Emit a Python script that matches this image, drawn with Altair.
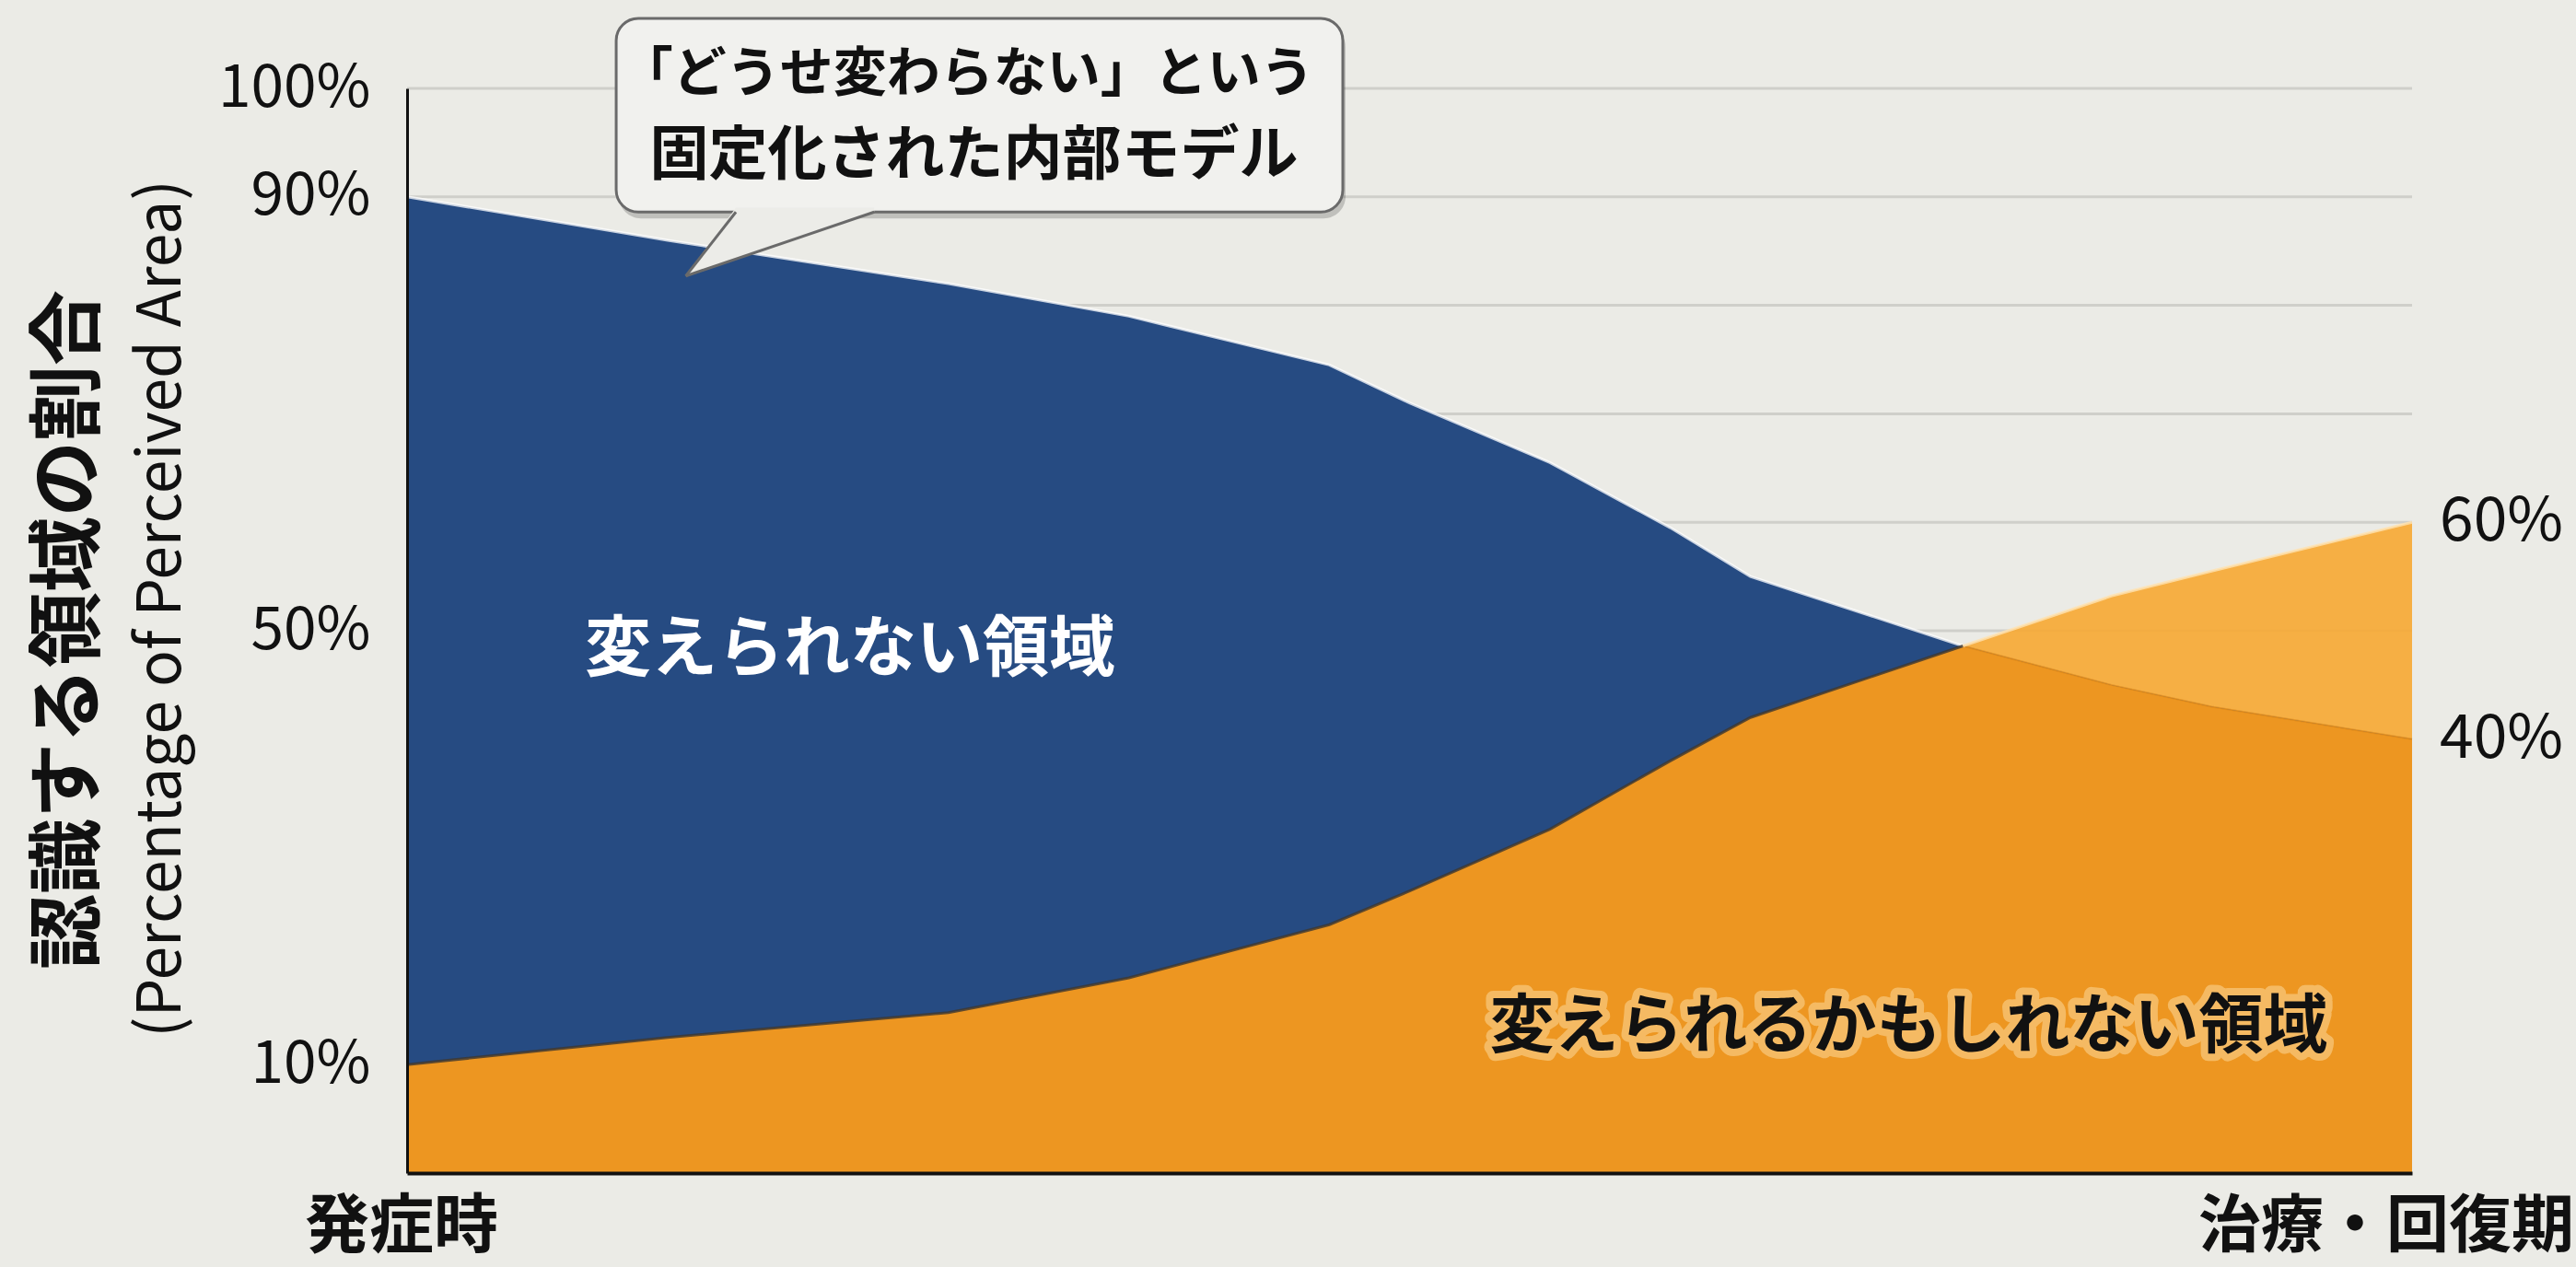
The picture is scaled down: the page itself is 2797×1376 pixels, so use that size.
import altair as alt
import pandas as pd

# ---- data ----
x_pos = [0, 13, 27, 36, 46, 50, 57, 63, 67, 77.6, 85, 90, 100]
blue_vals = [90, 86, 82, 79, 74.5, 71, 65.5, 59.5, 55, 48.6, 45, 43, 40]      # 変えられない領域
orange_vals = [10, 12.5, 14.8, 18, 22.9, 26, 31.7, 38, 42, 48.6, 53.2, 55.5, 60]  # 変えられるかもしれない領域

grid_vals = [10, 20, 30, 40, 50, 60, 70, 80, 90, 100]
y_label_values = [10, 50, 90, 100]
x_labels = ["発症時", "治療・回復期"]
y_title = "認識する領域の割合"
y_subtitle = "(Percentage of Perceived Area)"
bubble_lines = ["「どうせ変わらない」という", "固定化された内部モデル"]
area_labels = ["変えられない領域", "変えられるかもしれない領域"]

FONT = "Noto Sans CJK JP"
BG = "#EBEBE6"
NAVY = "#264B82"
ORANGE = "#ED9621"
ORANGE_LIGHT = "#F6A936"

df = pd.DataFrame({"x": x_pos, "blue": blue_vals, "orange": orange_vals})

xs = alt.Scale(domain=[0, 100], nice=False, zero=False)
ys = alt.Scale(domain=[0, 100], nice=False, zero=False)

label_expr_y = "indexof(" + str(y_label_values) + ", datum.value) >= 0 ? datum.value + '%' : ''"

x_axis = alt.Axis(
    title=None, values=[0, 100], labels=False, grid=False, ticks=False, tickSize=0,
    domainColor="#111111", domainWidth=4, zindex=1,
)
y_axis = alt.Axis(
    title=None, values=list(range(0, 101, 10)), labelExpr=label_expr_y, grid=False, ticks=False,
    tickSize=0, labelFontSize=64, labelFont=FONT, labelColor="#111111", labelPadding=40,
    labelLimit=0, labelOverlap=False, labelFlush=False, domainColor="#111111", domainWidth=3,
    zindex=1,
)

X = alt.X("x:Q", scale=xs, axis=x_axis)

grid = alt.Chart(pd.DataFrame({"g": grid_vals})).mark_rule(color="#CFCFCA", strokeWidth=3).encode(
    y=alt.Y("g:Q", scale=ys, axis=y_axis)
)

base = alt.Chart(df).encode(x=X)

light_orange = base.mark_area(color=ORANGE_LIGHT, opacity=0.92).encode(
    y=alt.Y("orange:Q", scale=ys, axis=y_axis)
)
blue_area = base.mark_area(color=NAVY).encode(y=alt.Y("blue:Q", scale=ys, axis=y_axis))
dark_orange = base.transform_calculate(low="min(datum.blue, datum.orange)").mark_area(
    color=ORANGE
).encode(y=alt.Y("low:Q", scale=ys, axis=y_axis))

blue_edge = base.transform_filter("datum.blue >= datum.orange").mark_line(
    color="#FFFFFF", strokeWidth=3, opacity=0.75
).encode(y=alt.Y("blue:Q", scale=ys, axis=y_axis))
blue_edge_after = base.transform_filter("datum.blue <= datum.orange").mark_line(
    color="#D88415", strokeWidth=2, opacity=0.6
).encode(y=alt.Y("blue:Q", scale=ys, axis=y_axis))
orange_edge_dark = base.transform_filter("datum.orange <= datum.blue").mark_line(
    color="#3E372E", strokeWidth=3, opacity=0.8
).encode(y=alt.Y("orange:Q", scale=ys, axis=y_axis))
orange_edge_light = base.transform_filter("datum.orange >= datum.blue").mark_line(
    color="#FFE2B0", strokeWidth=3, opacity=0.8
).encode(y=alt.Y("orange:Q", scale=ys, axis=y_axis))

# ---- x-axis end labels (text at the two ends of the time axis) ----
xl_df = pd.DataFrame({"t": x_labels, "lx": [x_pos[0], x_pos[-1]], "ly": [0, 0]})
x_label_left = alt.Chart(xl_df.iloc[[0]]).mark_text(
    align="center", baseline="middle", dy=60, dx=-6, font=FONT, fontSize=70, fontWeight="bold",
    color="#111111"
).encode(x=alt.X("lx:Q", scale=xs, axis=x_axis), y=alt.Y("ly:Q", scale=ys, axis=y_axis), text="t:N")
x_label_right = alt.Chart(xl_df.iloc[[1]]).mark_text(
    align="right", baseline="middle", dy=60, dx=176, font=FONT, fontSize=68, fontWeight="bold",
    color="#111111"
).encode(x=alt.X("lx:Q", scale=xs, axis=x_axis), y=alt.Y("ly:Q", scale=ys, axis=y_axis), text="t:N")

# ---- speech bubble (annotation, in data coordinates) ----
bub = pd.DataFrame({"x1": [10.43], "x2": [46.67], "y1": [88.6], "y2": [106.45]})
bubble_shadow = alt.Chart(bub).mark_rect(
    color="#000000", opacity=0.18, cornerRadius=24, xOffset=3, x2Offset=3, yOffset=7, y2Offset=7
).encode(
    x=alt.X("x1:Q", scale=xs, axis=x_axis), x2="x2:Q",
    y=alt.Y("y1:Q", scale=ys, axis=y_axis), y2="y2:Q",
)
bubble_rect = alt.Chart(bub).mark_rect(
    fill="#F1F1EE", stroke="#6A6A6A", strokeWidth=3, cornerRadius=24
).encode(
    x=alt.X("x1:Q", scale=xs, axis=x_axis), x2="x2:Q",
    y=alt.Y("y1:Q", scale=ys, axis=y_axis), y2="y2:Q",
)
tail = pd.DataFrame({"tx": [13.9, 16.4, 23.3], "lo": [82.7, 84.27, 88.6], "hi": [82.7, 89.0, 89.0]})
tail_fill = alt.Chart(tail).mark_area(color="#ECECE8").encode(
    x=alt.X("tx:Q", scale=xs, axis=x_axis),
    y=alt.Y("lo:Q", scale=ys, axis=y_axis), y2="hi:Q",
)
tail_edges_df = pd.DataFrame({
    "ex": [13.9, 16.4, 13.9, 23.3],
    "ey": [82.7, 88.6, 82.7, 88.6],
    "seg": ["a", "a", "b", "b"],
})
tail_edges = alt.Chart(tail_edges_df).mark_line(color="#6A6A6A", strokeWidth=3).encode(
    x=alt.X("ex:Q", scale=xs, axis=x_axis),
    y=alt.Y("ey:Q", scale=ys, axis=y_axis),
    detail="seg:N",
)
bubble_text1 = alt.Chart(pd.DataFrame({"t": [bubble_lines[0]], "bx": [10.6], "by": [101.2]})).mark_text(
    align="left", baseline="middle", font=FONT, fontSize=58, fontWeight="bold", color="#111111"
).encode(x=alt.X("bx:Q", scale=xs, axis=x_axis), y=alt.Y("by:Q", scale=ys, axis=y_axis), text="t:N")
bubble_text2 = alt.Chart(pd.DataFrame({"t": [bubble_lines[1]], "bx": [12.1], "by": [93.7]})).mark_text(
    align="left", baseline="middle", font=FONT, fontSize=64, fontWeight="bold", color="#111111"
).encode(x=alt.X("bx:Q", scale=xs, axis=x_axis), y=alt.Y("by:Q", scale=ys, axis=y_axis), text="t:N")

# ---- area labels ----
lab1 = alt.Chart(pd.DataFrame({"t": [area_labels[0]], "lx": [22.1], "ly": [48.2]})).mark_text(
    align="center", baseline="middle", font=FONT, fontSize=72, fontWeight="bold", color="#FFFFFF"
).encode(x=alt.X("lx:Q", scale=xs, axis=x_axis), y=alt.Y("ly:Q", scale=ys, axis=y_axis), text="t:N")

lab2_df = pd.DataFrame({"t": [area_labels[1]], "lx": [74.9], "ly": [13.3]})
lab2_glow = alt.Chart(lab2_df).mark_text(
    align="center", baseline="middle", font=FONT, fontSize=70, fontWeight="bold",
    color="#F8C77A", stroke="#F8C77A", strokeWidth=16, strokeJoin="round", opacity=0.75
).encode(x=alt.X("lx:Q", scale=xs, axis=x_axis), y=alt.Y("ly:Q", scale=ys, axis=y_axis), text="t:N")
lab2 = alt.Chart(lab2_df).mark_text(
    align="center", baseline="middle", font=FONT, fontSize=70, fontWeight="bold", color="#111111"
).encode(x=alt.X("lx:Q", scale=xs, axis=x_axis), y=alt.Y("ly:Q", scale=ys, axis=y_axis), text="t:N")

# ---- end labels ----
end_df = pd.DataFrame({
    "ex": [x_pos[-1], x_pos[-1]],
    "ev": [orange_vals[-1], blue_vals[-1]],
})
end_df["t"] = end_df["ev"].map(lambda v: f"{v:.0f}%")
end_labels = alt.Chart(end_df).mark_text(
    align="left", baseline="middle", dx=30, font=FONT, fontSize=66, color="#111111"
).encode(x=alt.X("ex:Q", scale=xs, axis=x_axis), y=alt.Y("ev:Q", scale=ys, axis=y_axis), text="t:N")

# ---- y titles ----
title_main = alt.Chart(pd.DataFrame({"t": [y_title]})).mark_text(
    angle=270, align="center", baseline="middle", font=FONT, fontSize=82, fontWeight="bold",
    color="#111111"
).encode(x=alt.value(-366), y=alt.value(588), text="t:N")
title_sub = alt.Chart(pd.DataFrame({"t": [y_subtitle]})).mark_text(
    angle=270, align="center", baseline="middle", font=FONT, fontSize=66, color="#111111"
).encode(x=alt.value(-266), y=alt.value(565), text="t:N")

chart = alt.layer(
    grid, light_orange, blue_area, dark_orange, blue_edge, blue_edge_after, orange_edge_dark,
    orange_edge_light, bubble_shadow, bubble_rect, tail_fill, tail_edges, bubble_text1,
    bubble_text2, lab1, lab2_glow, lab2, end_labels, x_label_left, x_label_right,
    title_main, title_sub,
).properties(
    width=2177, height=1178,
    autosize=alt.AutoSizeParams(type="none"),
    padding={"left": 442, "top": 96, "right": 178, "bottom": 102},
    background=BG,
).configure_view(stroke=None)

chart.save("out.html", embed_options={"renderer": "svg", "actions": False})
